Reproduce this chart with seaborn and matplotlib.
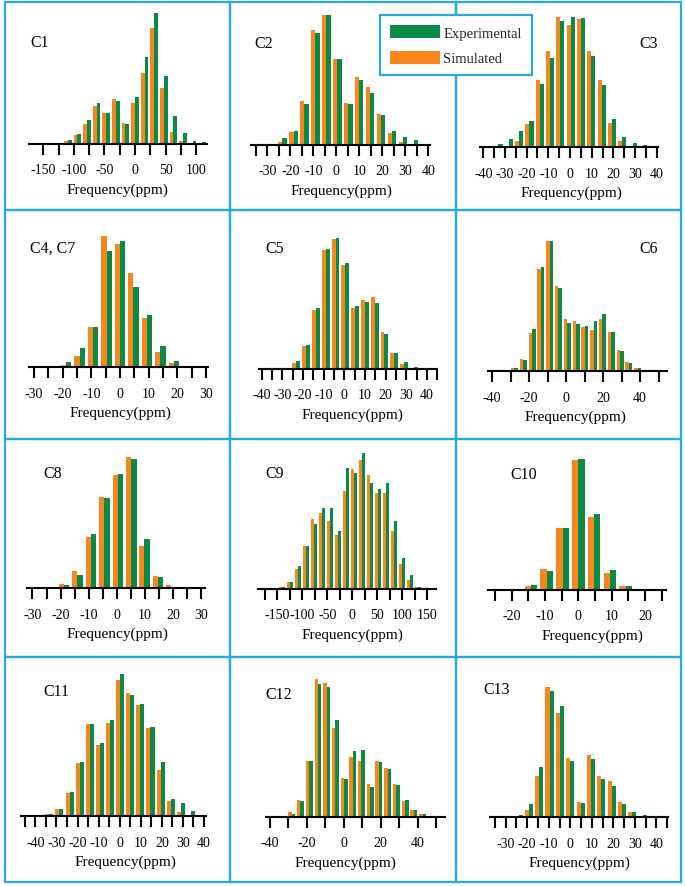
import matplotlib
matplotlib.use("Agg")
import matplotlib.pyplot as plt
from matplotlib.patches import Rectangle, Patch
import pandas as pd
import seaborn as sns

# ---------------- data (bin centres in ppm, relative counts) ----------------
c1_center = [-125.6, -109.9, -94.2, -78.5, -62.8, -47.1, -31.4, -15.7, 0, 15.7, 31.4, 47.1, 62.8, 78.5, 94.2, 109.9]
c1_sim = [2, 9, 28, 60, 113, 93, 136, 63, 124, 214, 348, 168, 35, 9, 1, 0]
c1_exp = [1, 11, 31, 71, 122, 93, 130, 60, 140, 261, 393, 204, 83, 32, 8, 5]

c2_center = [-28.1, -23.4, -18.6, -13.9, -9.1, -4.3, 0.4, 5.2, 9.9, 14.7, 19.5, 24.2, 29.0, 33.7]
c2_sim = [2, 8, 40, 131, 345, 390, 259, 127, 204, 175, 93, 36, 9, 2]
c2_exp = [1, 21, 41, 122, 337, 390, 257, 122, 194, 155, 90, 43, 23, 14]

c3_center = [-33.0, -28.3, -23.5, -18.7, -14.0, -9.2, -4.5, 0.3, 5.1, 9.8, 14.6, 19.3, 24.1, 28.9, 33.6]
c3_sim = [0, 3, 20, 71, 201, 289, 390, 366, 385, 288, 202, 72, 20, 4, 0]
c3_exp = [11, 24, 48, 80, 191, 269, 379, 390, 387, 273, 187, 85, 32, 12, 7]

c4_center = [-18.8, -14.1, -9.4, -4.7, 0, 4.7, 9.4, 14.1, 18.8]
c4_sim = [8, 35, 120, 393, 371, 283, 148, 47, 12]
c4_exp = [15, 57, 120, 348, 380, 241, 158, 65, 18]

c5_center = [-27.9, -23.2, -18.4, -13.7, -9.0, -4.2, 0.5, 5.2, 10.0, 14.7, 19.4, 24.2, 28.9, 33.6]
c5_sim = [3, 19, 69, 178, 357, 390, 313, 184, 208, 215, 112, 47, 15, 4]
c5_exp = [2, 24, 72, 182, 361, 392, 317, 188, 200, 199, 105, 47, 20, 6]

c6_center = [-32.6, -27.9, -23.1, -18.3, -13.6, -8.8, -4.1, 0.7, 5.5, 10.2, 15.0, 19.7, 24.5, 29.3, 34.0, 38.8, 43.5]
c6_sim = [1, 9, 36, 115, 306, 392, 255, 157, 152, 134, 124, 157, 118, 65, 28, 10, 1]
c6_exp = [1, 10, 35, 127, 312, 391, 249, 146, 142, 135, 152, 171, 117, 61, 26, 10, 1]

c8_center = [-23.6, -18.8, -14.0, -9.2, -4.4, 0.4, 5.2, 9.9, 14.7, 19.5]
c8_sim = [1, 13, 53, 154, 275, 340, 393, 128, 38, 9]
c8_exp = [1, 10, 41, 162, 270, 344, 389, 148, 33, 5]

c9_center = [-141, -125, -109, -93, -77, -61, -45, -29, -13, 3, 19, 35, 51, 67, 83, 99, 115, 131, 147]
c9_sim = [5, 22, 59, 130, 210, 227, 204, 161, 294, 360, 388, 342, 287, 287, 174, 75, 26, 7, 1]
c9_exp = [6, 22, 69, 129, 195, 243, 243, 174, 364, 349, 408, 319, 300, 318, 205, 92, 43, 7, 1]

c10_center = [-18.9, -14.2, -9.5, -4.7, 0, 4.7, 9.5, 14.2]
c10_sim = [1, 13, 63, 185, 390, 219, 51, 11]
c10_exp = [1, 14, 56, 186, 392, 227, 59, 13]

c11_center = [-38.2, -33.4, -28.6, -23.8, -19.0, -14.2, -9.4, -4.6, 0.2, 5.0, 9.8, 14.6, 19.4, 24.2, 29.0, 33.8]
c11_sim = [1, 6, 23, 70, 160, 278, 215, 279, 410, 369, 333, 264, 140, 46, 13, 4]
c11_exp = [1, 7, 23, 72, 164, 276, 219, 289, 428, 363, 337, 267, 164, 52, 40, 17]

c12_center = [-32.8, -28.1, -23.4, -18.6, -13.9, -9.2, -4.5, 0.2, 4.9, 9.6, 14.3, 19.0, 23.7, 28.4, 33.2, 37.9, 42.6, 47.3]
c12_sim = [2, 14, 50, 167, 414, 402, 267, 117, 179, 169, 98, 167, 146, 99, 49, 20, 8, 1]
c12_exp = [2, 9, 47, 167, 400, 391, 291, 114, 198, 200, 91, 164, 145, 95, 51, 20, 8, 1]

c13_center = [-24.0, -19.2, -14.4, -9.6, -4.8, 0, 4.8, 9.6, 14.4, 19.2, 24.0, 28.8, 33.6, 38.4]
c13_sim = [3, 22, 125, 391, 313, 177, 45, 186, 125, 109, 45, 17, 5, 1]
c13_exp = [6, 40, 152, 379, 333, 169, 43, 176, 114, 93, 40, 17, 7, 1]

# tick positions and labelled ticks
t1_ticks = [-150, -125, -100, -75, -50, -25, 0, 25, 50, 75, 100]
t1_labels = [-150, -100, -50, 0, 50, 100]
t2_ticks = [-35, -30, -25, -20, -15, -10, -5, 0, 5, 10, 15, 20, 25, 30, 35, 40]
t2_labels = [-30, -20, -10, 0, 10, 20, 30, 40]
t3_ticks = [-40, -35, -30, -25, -20, -15, -10, -5, 0, 5, 10, 15, 20, 25, 30, 35, 40]
t3_labels = [-40, -30, -20, -10, 0, 10, 20, 30, 40]
t4_ticks = [-30, -25, -20, -15, -10, -5, 0, 5, 10, 15, 20, 25, 30]
t4_labels = [-30, -20, -10, 0, 10, 20, 30]
t5_ticks = [-40, -35, -30, -25, -20, -15, -10, -5, 0, 5, 10, 15, 20, 25, 30, 35, 40, 45]
t5_labels = [-40, -30, -20, -10, 0, 10, 20, 30, 40]
t6_ticks = [-40, -30, -20, -10, 0, 10, 20, 30, 40, 50]
t6_labels = [-40, -20, 0, 20, 40]
t8_ticks = [-30, -25, -20, -15, -10, -5, 0, 5, 10, 15, 20, 25, 30]
t8_labels = [-30, -20, -10, 0, 10, 20, 30]
t9_ticks = [-175, -150, -125, -100, -75, -50, -25, 0, 25, 50, 75, 100, 125, 150]
t9_labels = [-150, -100, -50, 0, 50, 100, 150]
t10_ticks = [-25, -20, -15, -10, -5, 0, 5, 10, 15, 20, 25]
t10_labels = [-20, -10, 0, 10, 20]
t11_ticks = [-45, -40, -35, -30, -25, -20, -15, -10, -5, 0, 5, 10, 15, 20, 25, 30, 35, 40]
t11_labels = [-40, -30, -20, -10, 0, 10, 20, 30, 40]
t12_ticks = [-40, -30, -20, -10, 0, 10, 20, 30, 40, 50]
t12_labels = [-40, -20, 0, 20, 40]
t13_ticks = [-35, -30, -25, -20, -15, -10, -5, 0, 5, 10, 15, 20, 25, 30, 35, 40, 45]
t13_labels = [-30, -20, -10, 0, 10, 20, 30, 40]

panel_names = ["C1", "C2", "C3", "C4, C7", "C5", "C6", "C8", "C9", "C10", "C11", "C12", "C13"]
series_names = ["Simulated", "Experimental"]
legend_order = ["Experimental", "Simulated"]
xlabel_text = "Frequency(ppm)"

# ---------------- layout (pixels) ----------------
W, H = 685, 887
GREEN = "#0b8a45"
ORANGE = "#f7861f"
BLUE = "#27a9e1"

sns.set_style("white")
plt.rcParams["font.family"] = ["Liberation Serif", "DejaVu Serif"]

fig = plt.figure(figsize=(W / 100, H / 100), dpi=100)
fig.patch.set_facecolor("white")

# per panel: zero px, px per ppm, axis start px, axis end px, baseline px,
#            label x, label baseline y, label ha, xlabel centre x
layout = [
    (135.0, 0.6107, 29.3, 207.3, 145.0, 30, 47, "left", 117),
    (336.3, 2.300, 251.3, 429.7, 146.0, 254, 48, "left", 341),
    (570.0, 2.167, 480.0, 657.5, 148.3, 658, 48, "right", 571),
    (120.0, 2.867, 29.3, 208.3, 368.3, 30, 253, "left", 120),
    (344.3, 2.067, 258.7, 437.3, 370.0, 265, 253, "left", 352),
    (566.0, 1.850, 488.3, 666.7, 372.3, 658, 253, "right", 575),
    (116.7, 2.807, 26.7, 205.0, 589.3, 43, 478, "left", 117),
    (352.3, 0.500, 258.0, 436.3, 590.0, 265, 478, "left", 352),
    (578.3, 3.333, 487.7, 665.7, 591.0, 510, 479, "left", 592),
    (119.7, 2.107, 20.7, 206.0, 817.3, 43, 696, "left", 125),
    (343.7, 1.850, 266.3, 444.7, 818.0, 265, 699, "left", 345),
    (570.3, 2.153, 490.0, 668.3, 818.3, 483, 694, "left", 579),
]

data = [
    (c1_center, c1_sim, c1_exp, t1_ticks, t1_labels),
    (c2_center, c2_sim, c2_exp, t2_ticks, t2_labels),
    (c3_center, c3_sim, c3_exp, t3_ticks, t3_labels),
    (c4_center, c4_sim, c4_exp, t4_ticks, t4_labels),
    (c5_center, c5_sim, c5_exp, t5_ticks, t5_labels),
    (c6_center, c6_sim, c6_exp, t6_ticks, t6_labels),
    (c8_center, c8_sim, c8_exp, t8_ticks, t8_labels),
    (c9_center, c9_sim, c9_exp, t9_ticks, t9_labels),
    (c10_center, c10_sim, c10_exp, t10_ticks, t10_labels),
    (c11_center, c11_sim, c11_exp, t11_ticks, t11_labels),
    (c12_center, c12_sim, c12_exp, t12_ticks, t12_labels),
    (c13_center, c13_sim, c13_exp, t13_ticks, t13_labels),
]

AX_H = 150.0   # axes height in px
Y_SCALE = 3.0  # data units per px

# panel frames
xs = [4.5, 229.5, 456.0, 680.5]
ys = [3.0, 211.0, 440.0, 657.5, 883.0]
for r in range(4):
    for c in range(3):
        x0, x1 = xs[c], xs[c + 1]
        y0, y1 = ys[r], ys[r + 1]
        fig.add_artist(Rectangle((x0 / W, 1 - y1 / H), (x1 - x0) / W, (y1 - y0) / H,
                                 transform=fig.transFigure, fill=False,
                                 edgecolor=BLUE, linewidth=1.6, zorder=1))

for name, (centers, sim, exp, ticks, labs), lay in zip(panel_names, data, layout):
    zero, s, px0, px1, base, lx, ly, lha, xlx = lay
    ax = fig.add_axes([px0 / W, 1 - base / H, (px1 - px0) / W, AX_H / H])
    ax.patch.set_alpha(0)
    df = pd.DataFrame({
        "ppm": list(centers) + list(centers),
        "count": list(sim) + list(exp),
        "series": [series_names[0]] * len(centers) + [series_names[1]] * len(centers),
    })
    sns.barplot(data=df, x="ppm", y="count", hue="series", hue_order=series_names,
                palette={"Simulated": ORANGE, "Experimental": GREEN},
                native_scale=True, errorbar=None, saturation=1, width=0.8,
                linewidth=0, legend=False, ax=ax)
    ax.set_xlim((px0 - zero) / s, (px1 - zero) / s)
    ax.set_ylim(0, AX_H * Y_SCALE)
    ax.set_xticks(ticks)
    ax.set_xticklabels([str(t) if t in labs else "" for t in ticks])
    ax.set_yticks([])
    ax.set_ylabel("")
    for sp in ("left", "right", "top"):
        ax.spines[sp].set_visible(False)
    ax.spines["bottom"].set_color("black")
    ax.spines["bottom"].set_linewidth(1.5)
    ax.tick_params(axis="x", bottom=True, direction="out", length=8, width=1.5,
                   color="black", pad=6, labelsize=10, labelcolor="black")
    ax.set_xlabel(xlabel_text, fontsize=11, labelpad=4.5, color="black",
                  x=(xlx - px0) / (px1 - px0))
    fig.text(lx / W, 1 - ly / H, name, fontsize=11.5, ha=lha, va="baseline", color="black")

handles = [Patch(facecolor=GREEN, edgecolor="none"), Patch(facecolor=ORANGE, edgecolor="none")]
leg = fig.legend(handles, legend_order, loc="upper left",
                 bbox_to_anchor=(380 / W, 1 - 16 / H), bbox_transform=fig.transFigure,
                 fontsize=10.5, frameon=True, fancybox=False, framealpha=1,
                 edgecolor=BLUE, handlelength=3.4, handleheight=1.05,
                 handletextpad=0.25, labelspacing=0.75, borderpad=0.68, borderaxespad=0)
leg.get_frame().set_linewidth(1.6)

fig.savefig("out.png", dpi=100, facecolor="white")
